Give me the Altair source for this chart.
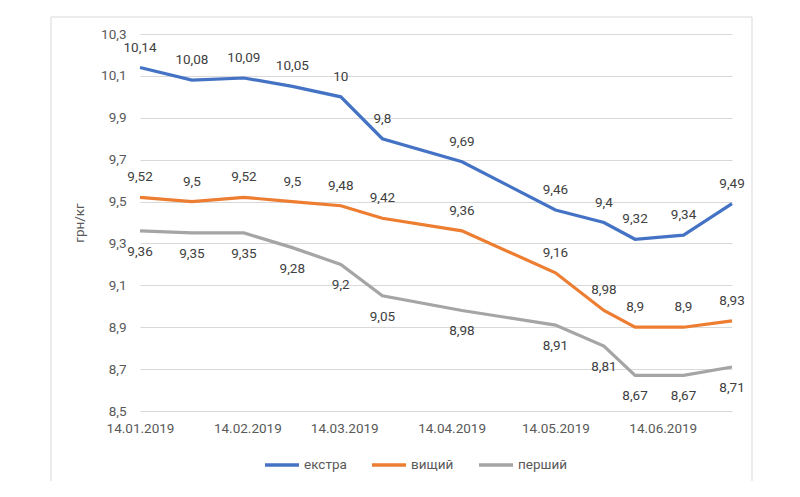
import altair as alt
import pandas as pd

dates = ["2019-01-14", "2019-01-29", "2019-02-13", "2019-02-27", "2019-03-13", "2019-03-25",
         "2019-04-17", "2019-05-14", "2019-05-28", "2019-06-06", "2019-06-20", "2019-07-04"]
ekstra = [10.14, 10.08, 10.09, 10.05, 10.0, 9.8, 9.69, 9.46, 9.4, 9.32, 9.34, 9.49]
vyshchyi = [9.52, 9.5, 9.52, 9.5, 9.48, 9.42, 9.36, 9.16, 8.98, 8.9, 8.9, 8.93]
pershyi = [9.36, 9.35, 9.35, 9.28, 9.2, 9.05, 8.98, 8.91, 8.81, 8.67, 8.67, 8.71]
series = ["екстра", "вищий", "перший"]
colors = ["#4472C4", "#ED7D31", "#A5A5A5"]
tick_months = [1, 2, 3, 4, 5, 6]
y_ticks = [8.5, 8.7, 8.9, 9.1, 9.3, 9.5, 9.7, 9.9, 10.1, 10.3]
y_title = "грн/кг"

rows = []
for name, vals in zip(series, [ekstra, vyshchyi, pershyi]):
    for d, v in zip(dates, vals):
        rows.append({"date": d, "value": v, "series": name,
                     "label": f"{v:g}".replace(".", ",")})
df = pd.DataFrame(rows)

FONT = "Roboto"
TXT = "#595959"
FS = 13.5

x_enc = alt.X("date:T",
              scale=alt.Scale(type="utc",
                              domain=[alt.DateTime(year=2019, month=1, date=14, utc=True),
                                      alt.DateTime(year=2019, month=7, date=4, utc=True)]),
              axis=alt.Axis(values=[alt.DateTime(year=2019, month=m, date=14, utc=True) for m in tick_months],
                            labelExpr="utcFormat(datum.value, '%d.%m.%Y')",
                            labelAngle=0, grid=False,
                            ticks=False, domain=False, labelColor=TXT, labelFontSize=FS,
                            labelPadding=10, labelFlush=False, labelOverlap=False, title=None))
y_enc = alt.Y("value:Q",
              scale=alt.Scale(domain=[8.5, 10.3], nice=False, zero=False),
              axis=alt.Axis(values=y_ticks,
                            labelExpr="replace(format(datum.value, '.1f'), '.', ',')",
                            grid=True, gridColor="#D9D9D9", gridWidth=1, ticks=False,
                            domain=False, labelColor=TXT, labelFontSize=FS, labelPadding=14,
                            title=y_title, titleColor=TXT, titleFontSize=FS,
                            titleFontWeight="normal", titlePadding=14))

base = alt.Chart(df)

border = alt.Chart(pd.DataFrame({"a": [0]})).mark_rect(
    fillOpacity=0, stroke="#D9D9D9", strokeWidth=1
).encode(x=alt.value(-89), x2=alt.value(612), y=alt.value(-17), y2=alt.value(454))

lines = base.mark_line(strokeWidth=3.2).encode(
    x=x_enc, y=y_enc,
    color=alt.Color("series:N",
                    scale=alt.Scale(domain=series, range=colors),
                    sort=series,
                    legend=alt.Legend(title=None, orient="none", legendX=123, legendY=412,
                                      direction="horizontal", symbolType="stroke",
                                      symbolSize=1156, symbolStrokeWidth=3.5,
                                      labelFontSize=FS, labelColor=TXT, labelOffset=3,
                                      columnPadding=18, padding=0))
)

above = base.transform_filter(alt.FieldOneOfPredicate(field="series", oneOf=series[:2])).mark_text(
    dy=-20, fontSize=FS, color="#404040"
).encode(x="date:T", y="value:Q", text="label:N")

below = base.transform_filter(alt.FieldEqualPredicate(field="series", equal=series[2])).mark_text(
    dy=21, fontSize=FS, color="#404040"
).encode(x="date:T", y="value:Q", text="label:N")

chart = alt.layer(border, lines, above, below).properties(
    width=592, height=377,
    padding={"left": 132, "top": 26, "right": 50, "bottom": 70},
    autosize=alt.AutoSizeParams(type="none"),
).configure(font=FONT).configure_view(strokeWidth=0)

chart.save("out.html", embed_options={"renderer": "svg", "actions": False})
